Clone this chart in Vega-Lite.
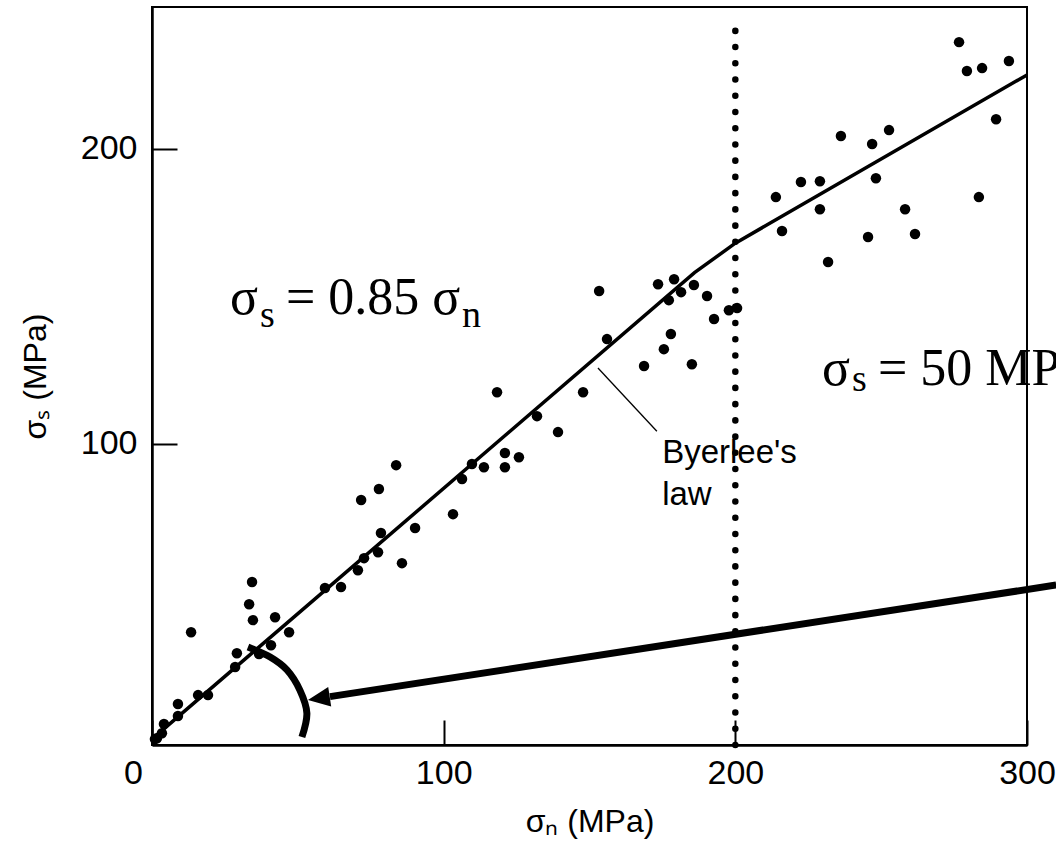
{
  "$schema": "https://vega.github.io/schema/vega-lite/v6.json",
  "autosize": {"type": "none"},
  "width": 875,
  "height": 738,
  "padding": {"left": 152, "top": 7, "right": 29, "bottom": 103},
  "background": "white",
  "config": {
    "view": {"stroke": "black", "strokeWidth": 2},
    "axis": {
      "grid": false,
      "domainColor": "black",
      "domainWidth": 2.5,
      "tickColor": "black",
      "tickWidth": 2,
      "tickSize": -25,
      "labelFlush": false,
      "labelFont": "Liberation Sans",
      "labelFontSize": 34,
      "labelColor": "black",
      "titleFont": "Liberation Sans",
      "titleFontSize": 32,
      "titleFontWeight": "normal",
      "titleColor": "black"
    }
  },
  "datasets": {
    "pts": [
      {"x": 1, "y": 0}, {"x": 1.7, "y": 0.3}, {"x": 3.4, "y": 2.0}, {"x": 4.1, "y": 5.1},
      {"x": 8.9, "y": 7.8}, {"x": 8.9, "y": 11.9}, {"x": 13.4, "y": 36.2}, {"x": 15.8, "y": 14.9},
      {"x": 19.2, "y": 14.9}, {"x": 28.5, "y": 24.4}, {"x": 29.1, "y": 29.1}, {"x": 33.3, "y": 45.7},
      {"x": 34.3, "y": 53.2}, {"x": 34.6, "y": 40.3}, {"x": 36.7, "y": 28.8}, {"x": 40.8, "y": 31.8},
      {"x": 42.2, "y": 41.3}, {"x": 47.0, "y": 36.2}, {"x": 59.3, "y": 51.2}, {"x": 64.8, "y": 51.5},
      {"x": 70.6, "y": 57.2}, {"x": 72.7, "y": 61.3}, {"x": 77.5, "y": 63.3}, {"x": 85.7, "y": 59.6},
      {"x": 78.5, "y": 69.8}, {"x": 71.7, "y": 81.0}, {"x": 77.8, "y": 84.7}, {"x": 83.7, "y": 92.8},
      {"x": 90.2, "y": 71.5}, {"x": 103.2, "y": 76.2}, {"x": 106.3, "y": 88.1}, {"x": 109.7, "y": 93.2},
      {"x": 113.8, "y": 92.1}, {"x": 121.0, "y": 92.1}, {"x": 121.0, "y": 96.9}, {"x": 125.8, "y": 95.5},
      {"x": 118.3, "y": 117.5}, {"x": 132.0, "y": 109.4}, {"x": 139.2, "y": 104.0}, {"x": 147.8, "y": 117.5},
      {"x": 153.3, "y": 151.8}, {"x": 156.0, "y": 135.5}, {"x": 168.7, "y": 126.4}, {"x": 175.5, "y": 132.1},
      {"x": 177.9, "y": 137.2}, {"x": 185.1, "y": 127.0}, {"x": 173.5, "y": 154.1}, {"x": 179.0, "y": 155.8},
      {"x": 177.2, "y": 148.7}, {"x": 181.4, "y": 151.4}, {"x": 185.8, "y": 153.8}, {"x": 190.3, "y": 150.1},
      {"x": 192.7, "y": 142.3}, {"x": 197.8, "y": 145.3}, {"x": 200.6, "y": 146.0}, {"x": 213.9, "y": 183.6},
      {"x": 216.0, "y": 172.1}, {"x": 222.5, "y": 188.7}, {"x": 229.0, "y": 189.0}, {"x": 229.0, "y": 179.5},
      {"x": 231.8, "y": 161.6}, {"x": 236.2, "y": 204.3}, {"x": 245.5, "y": 170.1}, {"x": 246.9, "y": 201.6},
      {"x": 248.2, "y": 190.0}, {"x": 252.7, "y": 206.3}, {"x": 258.2, "y": 179.5}, {"x": 261.6, "y": 171.1},
      {"x": 276.7, "y": 236.1}, {"x": 279.4, "y": 226.3}, {"x": 284.6, "y": 227.3}, {"x": 283.5, "y": 183.6},
      {"x": 289.4, "y": 210.0}, {"x": 293.8, "y": 229.7}
    ],
    "law": [{"x": 0, "y": 0}, {"x": 186, "y": 158}, {"x": 200, "y": 168}, {"x": 300, "y": 225}],
    "dotted": [{"x": 200, "y": -2}, {"x": 200, "y": 240}],
    "arrow": [{"x": 61.0, "y": 14.4}, {"x": 310.0, "y": 52.2}],
    "head": [{"x": 57.2, "y": 13.8}],
    "arc": [
      {"k": 1, "x": 32.9, "y": 31.2}, {"k": 2, "x": 40.5, "y": 27.8}, {"k": 3, "x": 46.3, "y": 23.4},
      {"k": 4, "x": 50.7, "y": 16.6}, {"k": 5, "x": 53.1, "y": 8.8}, {"k": 6, "x": 51.4, "y": 0.7}
    ],
    "leader": [{"x": 152.9, "y": 125.7}, {"x": 173.1, "y": 104.3}],
    "eqMain": [
      {"x": 26.7, "y": 144.0, "t": "σ"}, {"x": 45.9, "y": 144.0, "t": "= 0.85 σ"},
      {"x": 229.7, "y": 119.9, "t": "σ"}, {"x": 248.9, "y": 119.9, "t": "= 50 MPa"}
    ],
    "eqSub": [
      {"x": 37.0, "y": 139.6, "t": "s"}, {"x": 106.3, "y": 139.6, "t": "n"}, {"x": 240.0, "y": 117.9, "t": "s"}
    ],
    "label": [{"x": 174.9, "y": 93.5, "t": "Byerlee's"}, {"x": 174.9, "y": 79.3, "t": "law"}]
  },
  "encoding": {
    "x": {
      "field": "x", "type": "quantitative",
      "scale": {"domain": [0, 300], "nice": false, "zero": false},
      "axis": {
        "title": "σₙ (MPa)",
        "values": [0, 100, 200, 300],
        "labelPadding": 36,
        "labelOffset": {"condition": {"test": "datum.value === 0", "value": -19}, "value": 0},
        "titlePadding": 16
      }
    },
    "y": {
      "field": "y", "type": "quantitative",
      "scale": {"domain": [-2, 248], "nice": false, "zero": false},
      "axis": {
        "title": "σₛ (MPa)",
        "values": [100, 200],
        "labelPadding": 40,
        "titlePadding": 28
      }
    }
  },
  "layer": [
    {"data": {"name": "law"}, "mark": {"type": "line", "color": "black", "strokeWidth": 3.5}},
    {"data": {"name": "dotted"}, "mark": {"type": "line", "color": "black", "strokeWidth": 6.5, "strokeCap": "round", "strokeDash": [0.1, 16.13]}},
    {"data": {"name": "arrow"}, "mark": {"type": "line", "color": "black", "strokeWidth": 7}},
    {"data": {"name": "head"}, "mark": {"type": "point", "shape": "M0,-1L0.9,1L-0.9,1Z", "filled": true, "fill": "black", "strokeWidth": 0, "opacity": 1, "size": 484, "angle": 261.3}},
    {"data": {"name": "arc"}, "mark": {"type": "line", "color": "black", "strokeWidth": 7, "interpolate": "cardinal"}, "encoding": {"order": {"field": "k", "type": "quantitative"}}},
    {"data": {"name": "leader"}, "mark": {"type": "line", "color": "black", "strokeWidth": 1.3}},
    {"data": {"name": "pts"}, "mark": {"type": "circle", "color": "black", "size": 110, "opacity": 1}},
    {"data": {"name": "eqMain"}, "mark": {"type": "text", "font": "Liberation Serif", "fontSize": 52, "align": "left", "baseline": "alphabetic", "color": "black"}, "encoding": {"text": {"field": "t"}}},
    {"data": {"name": "eqSub"}, "mark": {"type": "text", "font": "Liberation Serif", "fontSize": 38, "align": "left", "baseline": "alphabetic", "color": "black"}, "encoding": {"text": {"field": "t"}}},
    {"data": {"name": "label"}, "mark": {"type": "text", "font": "Liberation Sans", "fontSize": 33, "align": "left", "baseline": "alphabetic", "color": "black"}, "encoding": {"text": {"field": "t"}}}
  ]
}
